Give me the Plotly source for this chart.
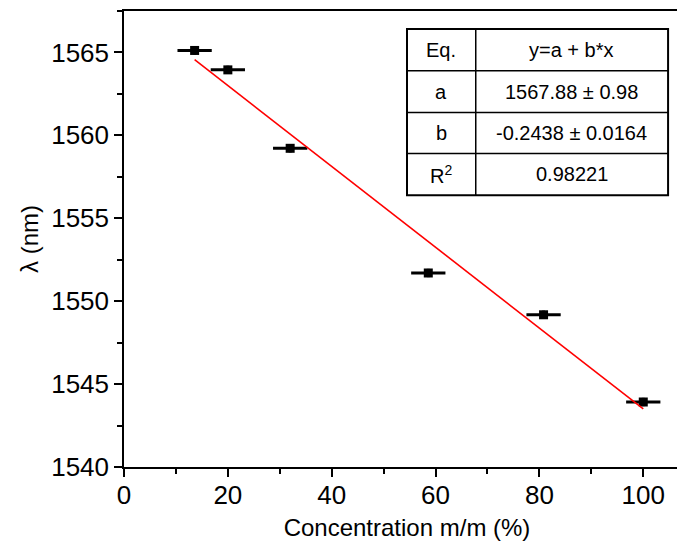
import plotly.graph_objects as go

# dados
conc = [13.6, 20.0, 32.0, 58.6, 80.8, 100.0]
lam = [1565.12, 1563.95, 1559.22, 1551.70, 1549.18, 1543.92]
erro_x = [3.3, 3.3, 3.3, 3.3, 3.3, 3.3]
erro_y = [0.25, 0.25, 0.25, 0.25, 0.25, 0.25]

# ajuste linear (valores da tabela)
a, b = 1567.88, -0.2438
tab_rotulos = ["Eq.", "a", "b", "R<sup>2</sup>"]
tab_valores = ["y=a + b*x", "1567.88 ± 0.98", "-0.2438 ± 0.0164", "0.98221"]

FONTE = "Liberation Sans, Arial, sans-serif"
W, H = 685, 546
ML, MR, MT, MB = 116, 1, 1, 87
PW, PH = W - ML - MR, H - MT - MB


def px(x):
    return (x - ML) / PW


def py(y):
    return (H - MB - y) / PH


fig = go.Figure()
fig.add_trace(go.Scatter(
    x=conc, y=lam, mode="markers",
    marker=dict(symbol="square", size=9, color="black"),
    error_x=dict(type="data", array=erro_x, width=0, thickness=3, color="black"),
    error_y=dict(type="data", array=erro_y, width=0, thickness=3, color="black"),
    showlegend=False))

xs = [min(conc), max(conc)]
fig.add_trace(go.Scatter(x=xs, y=[a + b * v for v in xs], mode="lines",
                         line=dict(color="#FF0000", width=1.6), showlegend=False))

# tabela do ajuste
esq, meio, dir_ = 400, 469, 662
linhas = [19, 61, 103, 144, 186]
shapes = [dict(type="rect", xref="paper", yref="paper", x0=px(esq), x1=px(dir_),
               y0=py(linhas[-1]), y1=py(linhas[0]), line=dict(color="black", width=2),
               fillcolor="white", layer="above")]
shapes.append(dict(type="line", xref="paper", yref="paper", x0=px(meio), x1=px(meio),
                   y0=py(linhas[-1]), y1=py(linhas[0]), line=dict(color="black", width=1.5)))
for yl in linhas[1:-1]:
    shapes.append(dict(type="line", xref="paper", yref="paper", x0=px(esq), x1=px(dir_),
                       y0=py(yl), y1=py(yl), line=dict(color="black", width=1.5)))
anots = []
for i, (r, v) in enumerate(zip(tab_rotulos, tab_valores)):
    yc = py((linhas[i] + linhas[i + 1]) / 2)
    for xc, t in (((esq + meio) / 2, r), ((meio + dir_) / 2, v)):
        anots.append(dict(x=px(xc), y=yc, xref="paper", yref="paper", text=t,
                          xanchor="center", yanchor="middle", showarrow=False,
                          font=dict(size=20, color="black", family=FONTE)))

eixo = dict(showline=True, linecolor="black", linewidth=1.5, mirror=True,
            ticks="outside", ticklen=8, tickwidth=1.5, tickcolor="black",
            showgrid=False, zeroline=False,
            tickfont=dict(size=26, color="black", family=FONTE))
fig.update_layout(
    width=W, height=H, margin=dict(l=ML, r=MR, t=MT, b=MB),
    paper_bgcolor="white", plot_bgcolor="white",
    font=dict(family=FONTE, color="black"),
    xaxis=dict(**eixo, range=[0, 109], dtick=20, ticklabelstandoff=-4,
               minor=dict(ticks="outside", ticklen=5, dtick=10, tickcolor="black"),
               title=dict(text="Concentration m/m (%)", font=dict(size=24), standoff=10)),
    yaxis=dict(**eixo, range=[1540, 1567.5], dtick=5,
               minor=dict(ticks="outside", ticklen=5, dtick=2.5, tickcolor="black"),
               title=dict(text="λ (nm)", font=dict(size=24), standoff=6)),
    shapes=shapes, annotations=anots)

fig.write_html("out.html")
